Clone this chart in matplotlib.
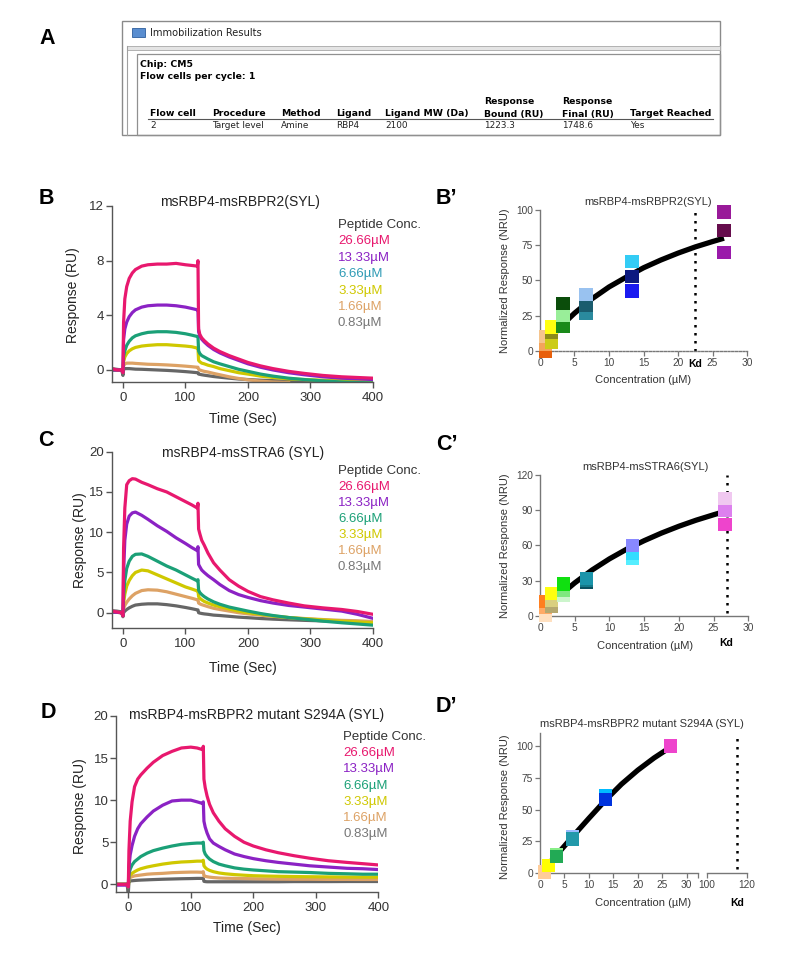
import numpy as np
import matplotlib.pyplot as plt
from matplotlib.patches import Rectangle

plt.rcParams['font.family'] = ['Liberation Sans', 'DejaVu Sans']

W, H = 800, 957
nan = np.nan

# ---------------- sensorgram data (time in s, response in RU) ----------------
time_s = [-18, -10, -2, 0, 1, 3, 6, 10, 15, 20,
          30, 40, 55, 70, 85, 100, 110, 119, 120, 121,
          123, 126, 130, 136, 145, 155, 170, 185, 200, 220,
          240, 265, 290, 320, 350, 375, 400]

conc_labels = ['26.66µM', '13.33µM', '6.66µM', '3.33µM', '1.66µM', '0.83µM']
line_colors = ['#E8186E', '#8B22C4', '#1BA077', '#CFC800', '#DDA265', '#666666']

b_2666 = [0.1, 0.0, 0.0, -0.2, 3.5, 5.2, 6.1, 6.7, 7.1, 7.35,
          7.6, 7.7, 7.75, 7.75, 7.8, 7.7, 7.65, 7.6, 8.0, 3.0,
          2.6, 2.35, 2.15, 1.9, 1.6, 1.35, 1.05, 0.8, 0.55, 0.3,
          0.1, -0.1, -0.25, -0.4, -0.5, -0.55, -0.6]
b_1333 = [0.0, 0.0, 0.0, -0.2, 2.2, 3.0, 3.5, 3.9, 4.2, 4.4,
          4.6, 4.7, 4.75, 4.75, 4.7, 4.6, 4.5, 4.4, 4.4, 2.8,
          2.5, 2.25, 2.05, 1.8, 1.5, 1.25, 0.95, 0.7, 0.45, 0.2,
          0.0, -0.2, -0.35, -0.5, -0.6, -0.65, -0.7]
b_666 = [0.0, 0.0, 0.0, -0.2, 1.0, 1.4, 1.8, 2.1, 2.35, 2.5,
         2.65, 2.75, 2.8, 2.8, 2.75, 2.65, 2.55, 2.45, 2.45, 1.4,
         1.2, 1.05, 0.95, 0.8, 0.6, 0.45, 0.25, 0.05, -0.1, -0.3,
         -0.45, -0.6, -0.7, -0.8, -0.88, -0.92, -0.95]
b_333 = [0.0, 0.0, 0.0, -0.2, 0.6, 0.95, 1.2, 1.4, 1.55, 1.65,
         1.75, 1.8, 1.85, 1.85, 1.8, 1.75, 1.7, 1.6, 1.6, 0.7,
         0.6, 0.5, 0.45, 0.35, 0.25, 0.1, -0.05, -0.2, -0.3, -0.45,
         -0.55, -0.65, -0.7, -0.75, -0.78, -0.8, -0.8]
b_166 = [0.0, 0.0, 0.0, -0.1, 0.3, 0.45, 0.5, 0.5, 0.5, 0.48,
         0.45, 0.42, 0.4, 0.37, 0.33, 0.28, 0.24, 0.2, 0.2, 0.05,
         0.0, -0.05, -0.1, -0.15, -0.25, -0.35, -0.5, -0.62, -0.72, -0.82,
         -0.88, -0.92, nan, nan, nan, nan, nan]
b_083 = [0.1, 0.05, 0.0, -0.4, 0.05, 0.1, 0.1, 0.1, 0.08, 0.06,
         0.05, 0.03, 0.0, -0.03, -0.07, -0.12, -0.16, -0.2, -0.2, -0.3,
         -0.32, -0.35, -0.38, -0.42, -0.48, -0.53, -0.6, -0.66, -0.7, -0.75,
         -0.78, -0.82, -0.84, -0.86, nan, nan, nan]

c_2666 = [0.2, 0.1, 0.0, -0.4, 8.0, 13.0, 15.9, 16.4, 16.65, 16.6,
          16.2, 15.9, 15.4, 15.0, 14.4, 13.8, 13.4, 13.0, 13.6, 10.4,
          9.8, 9.0, 8.4, 7.4, 6.2, 5.3, 4.1, 3.3, 2.65, 2.0,
          1.6, 1.2, 0.85, 0.6, 0.4, 0.15, -0.2]
c_1333 = [0.1, 0.05, 0.0, -0.4, 5.0, 9.0, 11.0, 12.0, 12.4, 12.5,
          12.1, 11.6, 10.8, 10.1, 9.3, 8.6, 8.1, 7.7, 8.2, 6.0,
          5.7, 5.3, 5.0, 4.6, 4.1, 3.5, 2.75, 2.25, 1.9, 1.5,
          1.2, 0.9, 0.7, 0.45, 0.2, -0.2, -0.7]
c_666 = [0.1, 0.05, 0.0, -0.4, 2.0, 4.0, 5.5, 6.4, 7.0, 7.25,
         7.3, 7.0, 6.4, 5.8, 5.3, 4.7, 4.3, 3.95, 4.1, 2.8,
         2.5, 2.25, 2.0, 1.7, 1.35, 1.05, 0.7, 0.45, 0.2, -0.1,
         -0.35, -0.6, -0.8, -1.05, -1.25, -1.4, -1.55]
c_333 = [0.1, 0.05, 0.0, -0.4, 1.2, 2.3, 3.3, 4.0, 4.6, 5.0,
         5.3, 5.2, 4.7, 4.2, 3.7, 3.2, 2.95, 2.7, 2.8, 2.0,
         1.8, 1.6, 1.4, 1.2, 0.95, 0.75, 0.45, 0.2, 0.0, -0.2,
         -0.4, -0.6, -0.75, -0.9, -1.05, -1.15, -1.25]
c_166 = [0.1, 0.05, 0.0, -0.4, 0.5, 0.9, 1.3, 1.7, 2.1, 2.4,
         2.75, 2.85, 2.8, 2.6, 2.3, 2.0, 1.8, 1.6, 1.65, 1.2,
         1.1, 1.0, 0.9, 0.75, 0.55, 0.4, 0.2, 0.0, -0.15, -0.3,
         -0.45, -0.6, -0.72, -0.85, -0.95, -1.0, -1.1]
c_083 = [0.25, 0.2, 0.1, -0.5, 0.0, 0.2, 0.4, 0.6, 0.8, 0.95,
         1.05, 1.1, 1.1, 1.0, 0.85, 0.65, 0.5, 0.35, 0.35, 0.0,
         -0.05, -0.1, -0.15, -0.2, -0.3, -0.35, -0.45, -0.55, -0.62, -0.72,
         -0.8, -0.88, -0.95, -1.02, -1.1, -1.15, -1.2]

d_2666 = [0.0, 0.0, 0.0, -0.3, 4.0, 7.5, 9.8, 11.6, 12.5, 13.0,
          13.8, 14.5, 15.3, 15.8, 16.2, 16.3, 16.2, 16.0, 16.4, 12.5,
          11.5, 10.5, 9.5, 8.5, 7.5, 6.6, 5.7, 5.0, 4.55, 4.1,
          3.75, 3.4, 3.1, 2.8, 2.6, 2.45, 2.3]
d_1333 = [-0.1, -0.1, -0.1, -0.3, 2.0, 3.5, 4.6, 5.7, 6.6, 7.2,
          8.0, 8.7, 9.4, 9.9, 10.0, 10.0, 9.8, 9.6, 9.8, 7.5,
          6.8, 6.1, 5.4, 4.9, 4.5, 4.1, 3.6, 3.3, 3.05, 2.8,
          2.6, 2.4, 2.2, 2.05, 1.9, 1.85, 1.75]
d_666 = [0.0, 0.0, 0.0, -0.3, 1.2, 1.8, 2.3, 2.7, 3.0, 3.3,
         3.7, 4.0, 4.3, 4.55, 4.75, 4.85, 4.9, 4.9, 5.0, 4.0,
         3.6, 3.3, 3.0, 2.7, 2.4, 2.2, 1.95, 1.8, 1.7, 1.6,
         1.5, 1.45, 1.4, 1.3, 1.25, 1.2, 1.2]
d_333 = [0.0, 0.0, 0.0, -0.3, 0.8, 1.1, 1.3, 1.5, 1.7, 1.85,
         2.05, 2.2, 2.4, 2.55, 2.65, 2.7, 2.75, 2.75, 2.85, 2.2,
         2.0, 1.8, 1.65, 1.5, 1.35, 1.25, 1.15, 1.08, 1.02, 0.98,
         0.95, 0.92, 0.9, 0.88, 0.86, 0.85, 0.85]
d_166 = [0.0, 0.0, 0.0, -0.3, 0.6, 0.8, 0.9, 1.0, 1.05, 1.1,
         1.2, 1.25, 1.3, 1.38, 1.42, 1.45, 1.45, 1.42, 1.5, 1.0,
         0.95, 0.9, 0.85, 0.8, 0.75, 0.72, 0.7, 0.68, 0.66, 0.64,
         0.62, 0.6, 0.6, 0.58, 0.58, 0.57, 0.57]
d_083 = [0.0, 0.0, 0.0, -1.1, 0.3, 0.4, 0.42, 0.45, 0.48, 0.5,
         0.53, 0.56, 0.6, 0.63, 0.66, 0.68, 0.7, 0.7, 0.7, 0.35,
         0.32, 0.3, 0.3, 0.3, 0.3, 0.3, 0.3, 0.3, 0.3, 0.3,
         0.3, 0.32, 0.32, 0.32, 0.33, 0.33, 0.33]

# ---------------- binding (normalized response) data ----------------
conc_um = [0.83, 1.66, 3.33, 6.66, 13.33, 26.66]

bp_resp = [[10, 5, 0], [17, 13.5, 6], [33.5, 25, 17.5],
           [40, 32, 27], [63.5, 53, 42.5], [98.5, 85.5, 70]]
bp_cols = [['#F5C48E', '#F4A45A', '#E8600C'], ['#FFFF10', '#8C8C1A', '#CCCC18'],
           ['#0B4D0B', '#99EE99', '#1A8A1A'], ['#99C2F0', '#1A5C6E', '#2A8A9E'],
           ['#33CCF5', '#0D1A80', '#1A1AF0'], ['#991A99', '#660D4D', '#9A1AAA']]
bp_fit_x = [0.83, 1.66, 3.33, 5, 7.5, 10, 12.5, 15, 17.5, 20, 22.5, 25, 26.66]
bp_fit_y = [5.3, 10.1, 19.0, 26.8, 36.9, 45.4, 52.4, 59.0, 64.5, 69.4, 73.8, 77.6, 80.0]
bp_kd = 22.5

cp_resp = [[12, 7, 0], [19, 13, 8], [27, 22, 17],
           [31.5, 30, 28.5], [60, 53, 49], [100, 90, 78]]
cp_cols = [['#FF7F20', '#FFAA66', '#FFE0C0'], ['#FFFF10', '#D9CF80', '#B5A870'],
           ['#10E010', '#7FE87F', '#CCF5CC'], ['#1A94AA', '#147A8A', '#0A5060'],
           ['#8888FF', '#33DDFF', '#55EEFF'], ['#F0C8F0', '#DD80EE', '#EE44CC']]
cp_fit_x = [0.83, 1.66, 3.33, 5, 7.5, 10, 12.5, 15, 17.5, 20, 22.5, 25, 26.66]
cp_fit_y = [5.3, 10.4, 19.7, 28.0, 39.0, 48.5, 56.8, 64.0, 70.5, 76.3, 81.5, 86.1, 89.0]
cp_kd = 26.9

dp_resp = [[1], [6], [13, 14.5], [27, 29], [58, 61], [100]]
dp_cols = [['#FFCC99'], ['#FFFF00'], ['#22AA55', '#88EE88'], ['#2299AA', '#99BBFF'],
           ['#0033DD', '#00BBFF'], ['#EE44CC']]
dp_fit_x = [0.83, 1.66, 3.33, 4.4, 6.66, 10, 13.33, 16.66, 20, 23.33, 26.66]
dp_fit_y = [3.5, 7.0, 14.0, 18.8, 28.8, 43.2, 57.2, 70.0, 81.0, 90.6, 99.0]
dp_kd = 115

fig = plt.figure(figsize=(W / 100, H / 100), dpi=100)


def add_px_axes(rect):
    left, top, right, bottom = rect
    ax = fig.add_axes([left / W, 1 - bottom / H, (right - left) / W, (bottom - top) / H])
    ax.patch.set_visible(False)
    return ax


# overlay in pixel coordinates for screenshot, letters and labels
ov = fig.add_axes([0, 0, 1, 1], zorder=10)
ov.set_xlim(0, W)
ov.set_ylim(H, 0)
ov.axis('off')
ov.patch.set_visible(False)

# ---------------- panel A: immobilization table ----------------
tbl_font = ['DejaVu Sans']
ov.add_patch(Rectangle((122, 21), 598, 114, fill=False, ec='#8a8a8a', lw=1.0))
ov.add_patch(Rectangle((132, 28), 13, 9, fc='#5A8ED0', ec='#2E5F9E', lw=0.6))
ov.text(150, 32.5, 'Immobilization Results', fontsize=7.1, family=tbl_font,
        va='center', ha='left', color='#222222')
ov.add_patch(Rectangle((127, 45.7), 593, 4.6, fc='#E4E4E4', ec='#A8A8A8', lw=0.6))
ov.plot([127, 127], [45.7, 135], color='#A0A0A0', lw=0.8)
ov.add_patch(Rectangle((137, 54.3), 583, 80.7, fill=False, ec='#909090', lw=0.9))
ov.text(140, 64.3, 'Chip: CM5', fontsize=6.7, family=tbl_font, weight='bold', va='center')
ov.text(140, 76.7, 'Flow cells per cycle: 1', fontsize=6.7, family=tbl_font,
        weight='bold', va='center')

col_x = [150, 211.7, 280.7, 335.7, 385, 484, 561.7, 630]
head_top = ['', '', '', '', '', 'Response', 'Response', '']
head_bot = ['Flow cell', 'Procedure', 'Method', 'Ligand', 'Ligand MW (Da)',
            'Bound (RU)', 'Final (RU)', 'Target Reached']
row_vals = ['2', 'Target level', 'Amine', 'RBP4', '2100', '1223.3', '1748.6', 'Yes']
for x, ht, hb, rv in zip(col_x, head_top, head_bot, row_vals):
    if ht:
        ov.text(x, 101.5, ht, fontsize=6.7, family=tbl_font, weight='bold', va='center')
    ov.text(x, 114, hb, fontsize=6.7, family=tbl_font, weight='bold', va='center')
    ov.text(x, 125.5, rv, fontsize=6.4, family=tbl_font, va='center', color='#222222')
ov.plot([148, 713], [118.6, 118.6], color='#555555', lw=0.8)

# ---------------- panel letters ----------------
for txt, x, y in [('A', 47, 38), ('B', 46, 199), ('C', 46, 441), ('D', 48, 713)]:
    ov.text(x, y, txt, fontsize=15.5, weight='bold', ha='center', va='center')
for txt, x, y in [('B’', 436, 199), ('C’', 436, 445), ('D’', 436, 707)]:
    ov.text(x, y, txt, fontsize=15.5, weight='bold', ha='left', va='center')


# ---------------- sensorgram panels ----------------
def draw_sensorgram(rect, xlim, ylim, yticks, curves, title, title_xy, ylab_xy, xlab_xy,
                    leg_xy, leg_step, leg_colors):
    ax = add_px_axes(rect)
    for ys, col in list(zip(curves, line_colors))[::-1]:
        ax.plot(time_s, ys, color=col, lw=2.3, solid_joinstyle='round')
    ax.set_xlim(*xlim)
    ax.set_ylim(*ylim)
    ax.set_xticks([0, 100, 200, 300, 400])
    ax.set_yticks(yticks)
    for s in ['top', 'right']:
        ax.spines[s].set_visible(False)
    for s in ['left', 'bottom']:
        ax.spines[s].set_color('#555555')
        ax.spines[s].set_linewidth(1.0)
    ax.tick_params(direction='out', length=4, width=1, color='#555555',
                   labelsize=9.5, labelcolor='#333333')
    ax.tick_params(axis='y', pad=1.5)
    ax.tick_params(axis='x', pad=3.5)
    ov.text(*title_xy, title, fontsize=10, ha='center', va='center', color='#222222')
    ov.text(*ylab_xy, 'Response (RU)', fontsize=10, rotation=90, ha='center', va='center',
            color='#222222')
    ov.text(*xlab_xy, 'Time (Sec)', fontsize=10, ha='center', va='center', color='#222222')
    lx, ly = leg_xy
    ov.text(lx, ly, 'Peptide Conc.', fontsize=9.5, ha='left', va='center', color='#333333')
    for i, (lab, col) in enumerate(zip(conc_labels, leg_colors)):
        ov.text(lx, ly + leg_step * (i + 1), lab, fontsize=9.5, ha='left', va='center',
                color=col)
    return ax


leg_cols_b = ['#E8186E', '#8B22C4', '#2F9BB5', '#CFC800', '#DDA265', '#777777']
leg_cols_cd = ['#E8186E', '#8B22C4', '#1BA077', '#CFC800', '#DDA265', '#777777']

draw_sensorgram((111.7, 206, 373, 382), (-18, 400), (-0.88, 12), [0, 4, 8, 12],
                [b_2666, b_1333, b_666, b_333, b_166, b_083], 'msRBP4-msRBPR2(SYL)',
                (240, 202), (73, 295), (243, 419), (338, 225), 16.4, leg_cols_b)
draw_sensorgram((111.7, 451.7, 373, 628), (-18, 400), (-1.9, 20), [0, 5, 10, 15, 20],
                [c_2666, c_1333, c_666, c_333, c_166, c_083], 'msRBP4-msSTRA6 (SYL)',
                (243, 453), (80, 540), (243, 668), (338, 471), 16.0, leg_cols_cd)
draw_sensorgram((116, 716, 378.3, 891.7), (-19.7, 400), (-0.88, 20), [0, 5, 10, 15, 20],
                [d_2666, d_1333, d_666, d_333, d_166, d_083],
                'msRBP4-msRBPR2 mutant S294A (SYL)',
                (257, 715), (80, 806), (247, 928), (343, 737), 16.2, leg_cols_cd)


# ---------------- binding panels ----------------
def style_binding(ax, xlim, ylim, xbounds, ybounds, xticks, xlabels, yticks, dashed=False,
                  show_left=True):
    ax.set_xlim(*xlim)
    ax.set_ylim(*ylim)
    for s in ['top', 'right']:
        ax.spines[s].set_visible(False)
    ax.spines['bottom'].set_position(('data', 0))
    ax.spines['bottom'].set_bounds(*xbounds)
    ax.spines['bottom'].set_color('#777777')
    ax.spines['bottom'].set_linewidth(1.0)
    if dashed:
        ax.spines['bottom'].set_linestyle((0, (1.5, 1.2)))
    if show_left:
        ax.spines['left'].set_position(('data', 0))
        ax.spines['left'].set_bounds(*ybounds)
        ax.spines['left'].set_color('#777777')
        ax.spines['left'].set_linewidth(1.0)
        ax.set_yticks(yticks)
    else:
        ax.spines['left'].set_visible(False)
        ax.set_yticks([])
    ax.set_xticks(xticks)
    ax.set_xticklabels(xlabels)
    ax.tick_params(direction='out', length=3.5, width=0.9, color='#777777',
                   labelsize=7.3, labelcolor='#444444', pad=1.5)


def draw_points(ax, resp, cols, fit_x, fit_y):
    ax.plot(fit_x, fit_y, color='black', lw=3.8, zorder=2, solid_capstyle='butt')
    for c, ys, cs in zip(conc_um, resp, cols):
        for y, col in list(zip(ys, cs))[::-1]:
            ax.scatter([c], [y], marker='s', s=90, color=col, edgecolors='none',
                       zorder=3, clip_on=False)


dot_style = (0, (1, 2.2))

axb = add_px_axes((531.7, 201.5, 750.5, 362.3))
draw_points(axb, bp_resp, bp_cols, bp_fit_x, bp_fit_y)
axb.plot([bp_kd, bp_kd], [0, 100], color='black', lw=1.8, linestyle=dot_style, zorder=1)
style_binding(axb, (-1.2, 30.5), (-8, 106), (0, 30), (0, 100), [0, 5, 10, 15, 20, 25, 30],
              ['0', '5', '10', '15', '20', '25', '30'], [0, 25, 50, 75, 100], dashed=True)
ov.text(695.5, 364, 'Kd', fontsize=7.5, weight='bold', ha='center', va='center')
ov.text(648, 202, 'msRBP4-msRBPR2(SYL)', fontsize=8, ha='center', va='center', color='#333333')
ov.text(505, 281, 'Normalized Response (NRU)', fontsize=8, rotation=90, ha='center',
        va='center', color='#333333')
ov.text(643, 380, 'Concentration (µM)', fontsize=8, ha='center', va='center', color='#333333')

axc = add_px_axes((531.7, 468, 751.7, 625.1))
draw_points(axc, cp_resp, cp_cols, cp_fit_x, cp_fit_y)
axc.plot([cp_kd, cp_kd], [2, 120], color='black', lw=1.8, linestyle=dot_style, zorder=1)
style_binding(axc, (-1.2, 30.5), (-8, 126), (0, 30), (0, 120), [0, 5, 10, 15, 20, 25, 30],
              ['0', '5', '10', '15', '20', '25', '30'], [0, 30, 60, 90, 120])
ov.text(726, 643, 'Kd', fontsize=7.5, weight='bold', ha='center', va='center')
ov.text(645, 467, 'msRBP4-msSTRA6(SYL)', fontsize=8, ha='center', va='center', color='#333333')
ov.text(505, 546, 'Normalized Response (NRU)', fontsize=8, rotation=90, ha='center',
        va='center', color='#333333')
ov.text(645, 646, 'Concentration (µM)', fontsize=8, ha='center', va='center', color='#333333')

axd = add_px_axes((532.7, 730.7, 698.9, 882.2))
draw_points(axd, dp_resp, dp_cols, dp_fit_x, dp_fit_y)
style_binding(axd, (-1.5, 32.5), (-7, 112), (0, 32.25), (0, 110),
              [0, 5, 10, 15, 20, 25, 30, 32.25], ['0', '5', '10', '15', '20', '25', '30', ''],
              [0, 25, 50, 75, 100])
axd2 = add_px_axes((705.7, 730.7, 748.7, 882.2))
axd2.plot([dp_kd, dp_kd], [3, 110], color='black', lw=1.8, linestyle=dot_style)
style_binding(axd2, (99.5, 121), (-7, 112), (100, 120), (0, 110), [100, 120],
              ['100', '120'], [], show_left=False)
ov.text(736.7, 903, 'Kd', fontsize=7.5, weight='bold', ha='center', va='center')
ov.text(642, 724, 'msRBP4-msRBPR2 mutant S294A (SYL)', fontsize=8, ha='center', va='center',
        color='#333333')
ov.text(505, 807, 'Normalized Response (NRU)', fontsize=8, rotation=90, ha='center',
        va='center', color='#333333')
ov.text(643, 903, 'Concentration (µM)', fontsize=8, ha='center', va='center', color='#333333')

fig.savefig('out.png', dpi=100, facecolor='white')
